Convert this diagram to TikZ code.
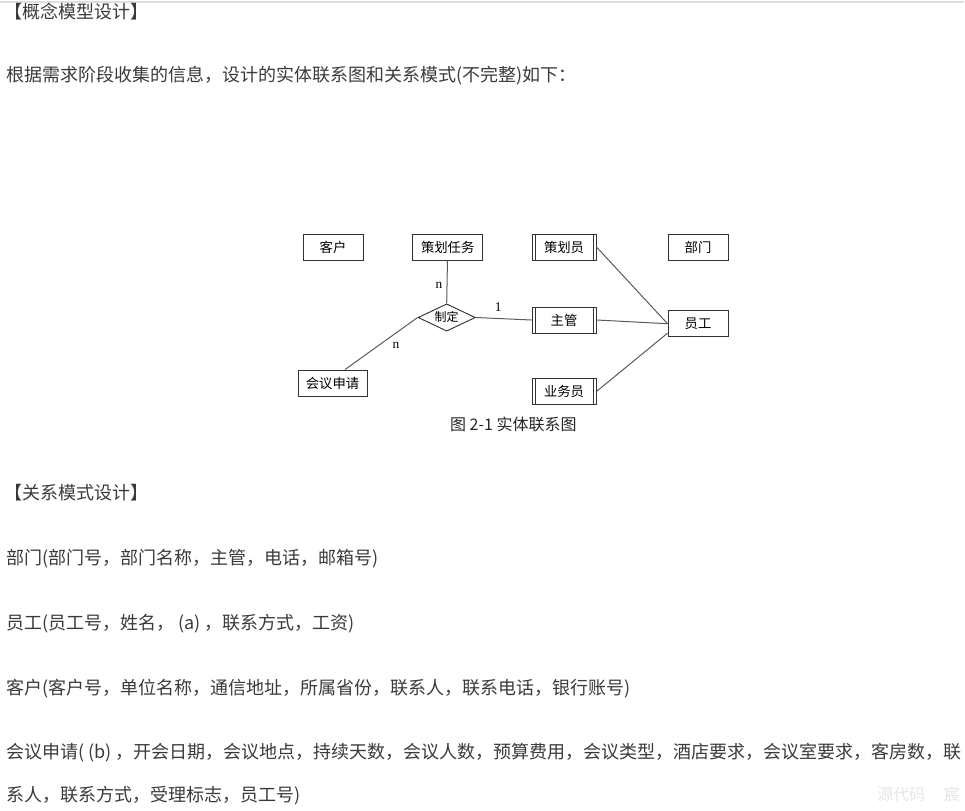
\documentclass[tikz,border=0pt]{standalone}
\usepackage{fontspec}
\setmainfont{Noto Sans CJK SC}
\newfontfamily\cardfont{Liberation Serif}
\usetikzlibrary{calc,shapes.geometric}
\definecolor{bodytext}{HTML}{3A3A3A}
\definecolor{erline}{HTML}{5A5A5A}
\tikzset{
    entity/.style={draw=black!80, line width=0.7pt, minimum height=19.5pt,
                   minimum width=45pt, inner sep=0pt,
                   font=\fontsize{10}{12}\selectfont},
    rolebox/.style={entity, minimum width=48pt},
    relation/.style={diamond, draw=black!80, line width=0.7pt, aspect=2.1,
                     minimum width=43pt, minimum height=20.5pt, inner sep=0pt,
                     text height=6pt, text depth=0.5pt,
                     font=\fontsize{9}{11}\selectfont},
    link/.style={draw=erline, line width=0.75pt},
    card/.style={font=\cardfont\fontsize{10}{12}\selectfont, inner sep=0pt},
    para/.style={anchor=base west, inner sep=0pt, text=bodytext,
                 font=\fontsize{13.5}{16}\selectfont},
}
\newcommand{\innerbars}[1]{
    \draw[line width=0.6pt, draw=black!80]
        ([xshift=2.6pt]#1.north west) -- ([xshift=2.6pt]#1.south west)
        ([xshift=-2.6pt]#1.north east) -- ([xshift=-2.6pt]#1.south east);
}

\begin{document}
\begin{tikzpicture}[x=0.75pt, y=-0.75pt]
    \useasboundingbox (0,0) rectangle (965,811);
    \draw[line width=1.5pt, draw=gray!25] (0,1.5) -- (964,1.5);

    % text above the diagram
    \node[para] (head1) at (4,18) {【概念模型设计】};
    \node[para] (intro) at (6,81) {根据需求阶段收集的信息，设计的实体联系图和关系模式(不完整)如下：};

    % E-R diagram
    \node[entity] (client) at (333,247) {客户};
    \node[entity, minimum width=52.5pt] (task) at (447.7,247) {策划任务};
    \node[rolebox] (planner) at (564,247) {策划员};
    \node[entity] (dept) at (698,247) {部门};
    \node[relation] (make) at (446.7,317.5) {制定};
    \node[rolebox] (mgr) at (564,320) {主管};
    \node[entity] (emp) at (698,323.7) {员工};
    \node[entity, minimum width=51.75pt] (apply) at (332.5,383) {会议申请};
    \node[rolebox] (sales) at (564,391.5) {业务员};
    \innerbars{planner}
    \innerbars{mgr}
    \innerbars{sales}

    \draw[link] (task) -- (make.north);
    \draw[link] (make.west) -- ([xshift=9.4pt]apply.north);
    \draw[link] (make.east) -- (mgr.west);
    \draw[link] (planner.east) -- (emp.west);
    \draw[link] (mgr.east) -- (emp.west);
    \draw[link] (sales.east) -- ([yshift=3pt]emp.south west);

    \node[card] (ntask) at (439,285.7) {n};
    \node[card] (nmgr) at (498.3,306.7) {1};
    \node[card] (napply) at (396,345) {n};
    \node[font=\fontsize{12}{14}\selectfont, text=black!85] (caption) at (513.3,424) {图 2-1 实体联系图};

    % relation schemas
    \node[para] (head2) at (4,499) {【关系模式设计】};
    \node[para] (rdept) at (6,564) {部门(部门号，部门名称，主管，电话，邮箱号)};
    \node[para] (remp) at (6,629) {员工(员工号，姓名， (a) ，联系方式，工资)};
    \node[para] (rclient) at (6,694) {客户(客户号，单位名称，通信地址，所属省份，联系人，联系电话，银行账号)};
    \node[para] (rapply) at (6,758) {会议申请( (b) ，开会日期，会议地点，持续天数，会议人数，预算费用，会议类型，酒店要求，会议室要求，客房数，联};
    \node[para] (rapply2) at (6,801) {系人，联系方式，受理标志，员工号)};
    \node[anchor=base west, inner sep=0pt, text=black!10,
          font=\fontsize{12}{14}\selectfont] (mark) at (877,800) {源代码\hspace{14pt}宸};
\end{tikzpicture}
\end{document}
